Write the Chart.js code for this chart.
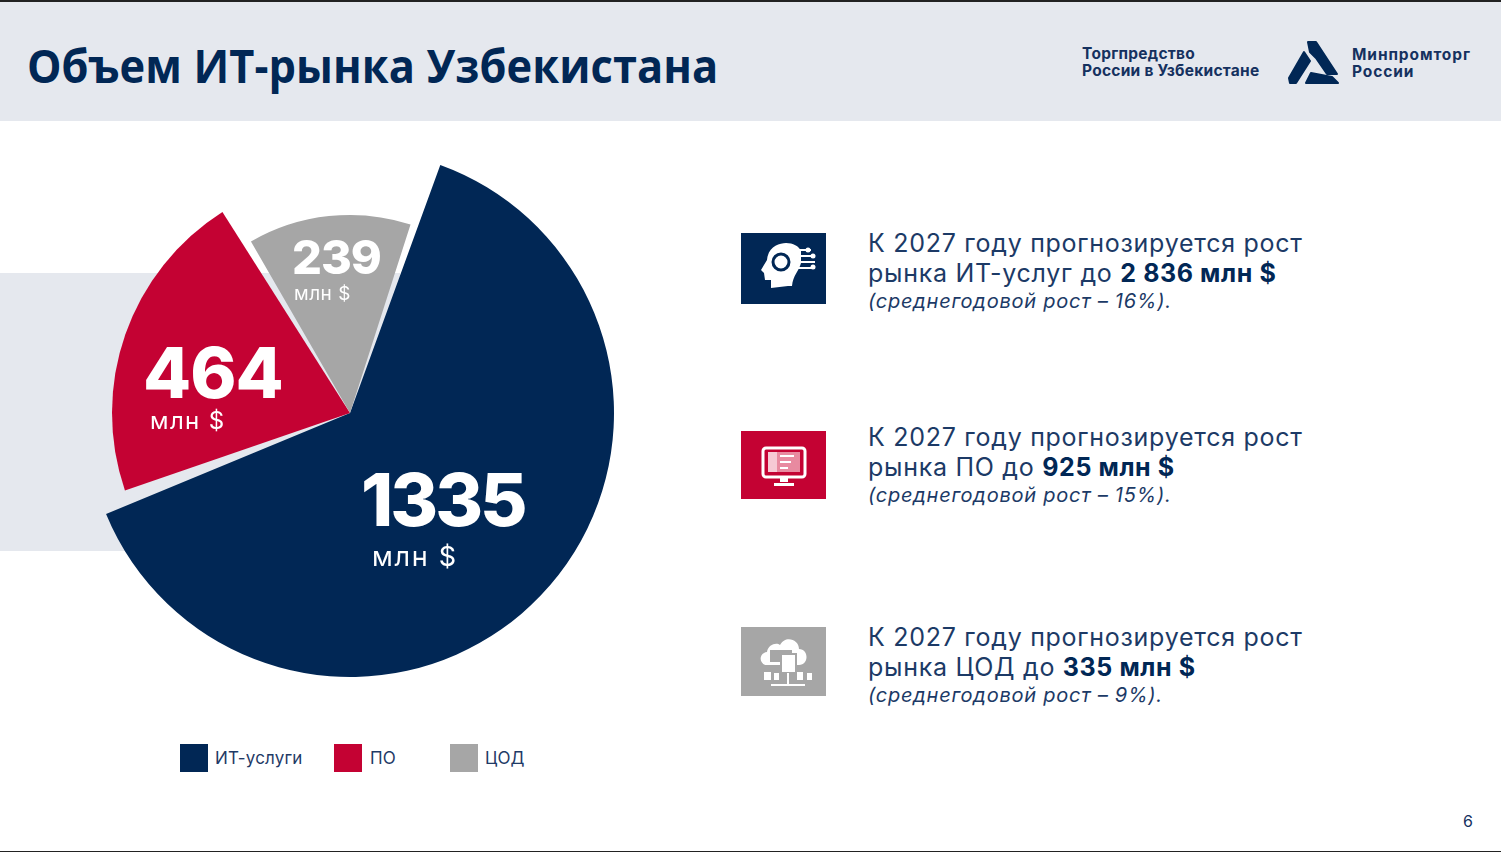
<!DOCTYPE html>
<html lang="ru">
<head>
<meta charset="utf-8">
<title>Объем ИТ-рынка Узбекистана</title>
<script src="https://cdn.jsdelivr.net/npm/chart.js@4"></script>
<style>
    html, body { margin: 0; padding: 0; background: #fff; }
    #page { position: relative; width: 1501px; height: 852px; overflow: hidden; font-family: Inter, sans-serif; color: #0a2a56; }
    #page div, #page span { position: absolute; white-space: nowrap; }
    #page b { font-weight: 700; color: #012755; letter-spacing: 0.6px; }
    #header { left: 0; top: 0; width: 1501px; height: 121px; background: #e5e8ee; border-top: 2px solid #222; box-sizing: border-box; }
    #band { left: 0; top: 273px; width: 400px; height: 278px; background: #e5e8ee; }
    #bottomLine { left: 0; top: 851px; width: 1501px; height: 1px; background: #222; }
    #title { left: 27px; top: 34px; font: 700 46px/62px "Open Sans", sans-serif; color: #012755; letter-spacing: 0.1px; transform: scaleX(0.943); transform-origin: left center; }
    .org { font: 700 15.5px/17px Inter, sans-serif; color: #15315f; letter-spacing: 0.25px; }
    #chartBox { left: 50px; top: 113px; width: 600px; height: 600px; }
    .big { color: #fff; font-weight: 800; font-family: Inter, sans-serif; }
    .unit { color: #fff; font-family: Inter, sans-serif; font-weight: 400; }
    .legendBox { width: 28px; height: 28px; top: 744px; }
    .legendText { top: 747px; font-size: 17px; line-height: 22px; color: #1f3a66; letter-spacing: 0.15px; }
    .line1, .line2 { font-size: 25px; line-height: 30px; left: 868px; color: #1c3a66; letter-spacing: 0.72px; }
    .note { font-size: 20px; line-height: 26px; left: 868px; font-style: italic; color: #1c3a66; letter-spacing: 0.75px; }
    #pageNum { left: 1463px; top: 811px; font-size: 16px; line-height: 20px; color: #15315f; }
</style>
</head>
<body>
<div id="page">
    <div id="header"></div>
    <div id="band"></div>
    <div id="title">Объем ИТ-рынка Узбекистана</div>
    <div class="org" style="left:1082px;top:45px">Торгпредство<br>России в Узбекистане</div>
    <svg style="position:absolute;left:1285px;top:38px" width="56" height="48" viewBox="0 0 56 48">
        <g fill="#012755" stroke="#012755" stroke-width="2" stroke-linejoin="round">
            <polygon points="23,4 31,4 52,36 42,36 31,20 25,14"/>
            <polygon points="19,14 25,23 11,45 5,45 4,40"/>
            <polygon points="21,45 26,35 47,39 53,45"/>
        </g>
    </svg>
    <div class="org" style="left:1352px;top:46px;font-size:15.5px;letter-spacing:0.9px">Минпромторг<br>России</div>

    <div id="chartBox"><canvas id="marketChart" width="600" height="600"></canvas></div>

    <span class="big" id="val0" style="left:361px;top:460px;font-size:73px;line-height:80px;letter-spacing:-3px"></span>
    <span class="unit" style="left:372px;top:540px;font-size:27px;line-height:34px;letter-spacing:1.7px">млн $</span>
    <span class="big" id="val1" style="left:143px;top:336px;font-size:70px;line-height:74px;letter-spacing:-1px"></span>
    <span class="unit" style="left:150px;top:406px;font-size:24px;line-height:30px;letter-spacing:1.4px">млн $</span>
    <span class="big" id="val2" style="left:292px;top:229px;font-size:47px;line-height:56px;letter-spacing:-1px"></span>
    <span class="unit" style="left:294px;top:282px;font-size:19px;line-height:24px;letter-spacing:0.5px">млн $</span>

    <div id="legend"></div>
    <div id="notes"></div>

    <svg style="position:absolute;left:741px;top:233px" width="85" height="71" viewBox="0 0 85 71">
        <rect width="85" height="71" fill="#012755"/>
        <path d="M20 37 L26 27 C27 14 38 10 45 10 L47 12 L47 53 L30 55 L30 47 L24 47 L23 40 Z" fill="#fff"/>
        <path d="M45 10 C52 10 58 13 60 18 L60 30 C58 38 52 42 51 53 L45 53 Z" fill="#fff"/>
        <circle cx="40" cy="29" r="8" fill="none" stroke="#012755" stroke-width="3"/>
        <path d="M50 17 H70 M52 23 H73 M56 29 H74 M56 35 H74" stroke="#fff" stroke-width="2" fill="none"/>
        <circle cx="67" cy="17" r="2.5" fill="#fff"/><circle cx="72" cy="23" r="2.5" fill="#fff"/><circle cx="72" cy="34" r="2.5" fill="#fff"/>
    </svg>
    <svg style="position:absolute;left:741px;top:431px" width="85" height="68" viewBox="0 0 85 68">
        <rect width="85" height="68" fill="#c40233"/>
        <rect x="22" y="17" width="42" height="29" rx="3" fill="none" stroke="#fff" stroke-width="3"/>
        <rect x="27" y="21" width="32" height="20" fill="#e88aa0"/>
        <rect x="27" y="21" width="9" height="20" fill="#f6c9d4"/>
        <path d="M39 25 H53 M39 31 H50 M39 37 H47" stroke="#fff" stroke-width="2"/>
        <rect x="39" y="46" width="8" height="5" fill="#fff"/>
        <rect x="33" y="52" width="20" height="3" fill="#fff"/>
    </svg>
    <svg style="position:absolute;left:741px;top:627px" width="85" height="69" viewBox="0 0 85 69">
        <rect width="85" height="69" fill="#a6a6a6"/>
        <path d="M26 38 C18 38 17 26 26 25 C27 17 36 15 39 18 C44 8 58 12 58 22 C68 22 68 38 58 38 Z" fill="#fff"/>
        <rect x="29" y="23" width="22" height="12" fill="#a6a6a6"/>
        <rect x="40" y="27" width="15" height="19" fill="#fff" stroke="#a6a6a6" stroke-width="2"/>
        <path d="M47 46 V58 M30 58 H64" stroke="#fff" stroke-width="2"/>
        <rect x="23" y="45" width="7" height="8" fill="#fff"/><rect x="33" y="46" width="5" height="7" fill="#fff"/>
        <rect x="56" y="45" width="6" height="8" fill="#fff"/><rect x="66" y="46" width="5" height="7" fill="#fff"/>
    </svg>

    <div id="pageNum">6</div>
    <div id="bottomLine"></div>
</div>

<script>
// Chart data
const categories = ['ИТ-услуги', 'ПО', 'ЦОД'];
const marketValues = [1335, 464, 239];
const sliceColors = ['#012755', '#c40233', '#a6a6a6'];

// Forecast rows
const forecastMarkets = ['ИТ-услуг', 'ПО', 'ЦОД'];
const forecastValues = ['2 836', '925', '335'];
const forecastGrowth = [16, 15, 9];

// Slice look: radius and how far each edge sits from its proportional angle (degrees)
const sliceRadius = [264, 238, 198];
const sliceEdgeTrim = [[2, 6.3], [-2.8, 8.2], [-5.8, 0.2]];

// Different radius per slice, Chart.js only has one per dataset
const sliceShapePlugin = {
    id: 'sliceShape',
    afterDatasetsUpdate(chart) {
        chart.getDatasetMeta(0).data.forEach((arc, i) => {
            const start = arc.startAngle + sliceEdgeTrim[i][0] * Math.PI / 180;
            const end = arc.endAngle - sliceEdgeTrim[i][1] * Math.PI / 180;
            arc.startAngle = start;
            arc.endAngle = end;
            arc.circumference = end - start;
            arc.outerRadius = sliceRadius[i];
        });
    }
};

new Chart(document.getElementById('marketChart'), {
    type: 'pie',
    data: {
        labels: categories,
        datasets: [{
            data: marketValues,
            backgroundColor: sliceColors,
            borderWidth: 0
        }]
    },
    options: {
        responsive: false,
        animation: false,
        rotation: 18,
        radius: 264,
        plugins: {
            legend: { display: false },
            tooltip: { enabled: false }
        }
    },
    plugins: [sliceShapePlugin]
});

// Value labels on slices
marketValues.forEach((value, i) => {
    document.getElementById('val' + i).textContent = value;
});

// Legend
const legendBoxX = [180, 334, 450];
const legendTextX = [215, 370, 485];
document.getElementById('legend').innerHTML = categories.map((name, i) => `
    <div class="legendBox" style="left:${legendBoxX[i]}px;background:${sliceColors[i]}"></div>
    <div class="legendText" style="left:${legendTextX[i]}px">${name}</div>
`).join('');

// Forecast text
const rowTop = [228, 422, 622];
document.getElementById('notes').innerHTML = forecastMarkets.map((name, i) => `
    <div class="line1" style="top:${rowTop[i]}px">К 2027 году прогнозируется рост</div>
    <div class="line2" style="top:${rowTop[i] + 30}px">рынка ${name} до <b>${forecastValues[i]} млн $</b></div>
    <div class="note" style="top:${rowTop[i] + 60}px">(среднегодовой рост – ${forecastGrowth[i]}%).</div>
`).join('');
</script>
</body>
</html>
